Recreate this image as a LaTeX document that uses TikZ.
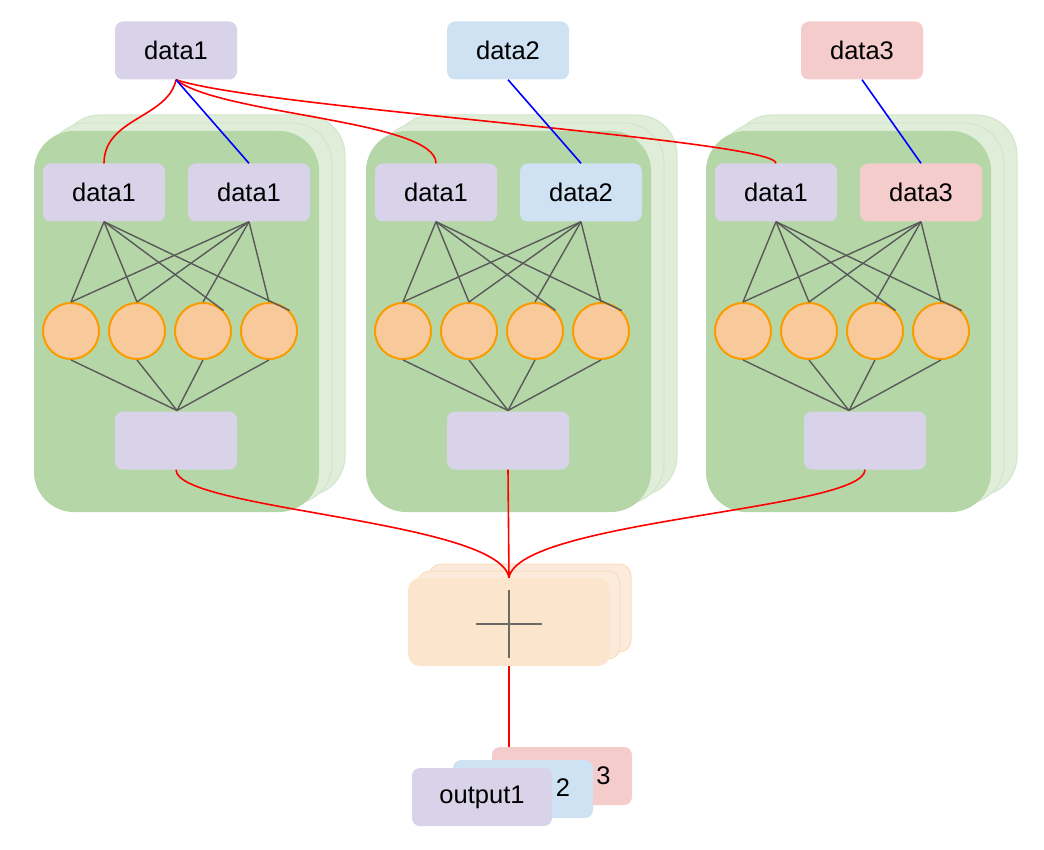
\documentclass[tikz,border=0pt]{standalone}
\usepackage{fontspec}
\setmainfont{Liberation Sans}
\definecolor{cpurple}{HTML}{D9D3E9}
\definecolor{cblue}{HTML}{CFE2F3}
\definecolor{cpink}{HTML}{F4CCCC}
\definecolor{cgreen}{HTML}{B5D7A8}
\definecolor{cgreenback}{HTML}{DFEDD9}
\definecolor{cgreenedge}{HTML}{D2E6CB}
\definecolor{corangefill}{HTML}{F8C99B}
\definecolor{corange}{HTML}{FA9C00}
\definecolor{cpeach}{HTML}{FCE5CD}
\definecolor{cpeachback}{HTML}{FCEBDA}
\definecolor{cpeachedge}{HTML}{F9DEC0}
\definecolor{cgray}{HTML}{595959}
\begin{document}
\begin{tikzpicture}[x=1pt,y=-1pt,
  font=\fontsize{25.5}{30}\selectfont,
  box/.style={rectangle, rounded corners=8pt, minimum width=122pt, minimum height=58pt, inner sep=0pt, text=black},
  outbox/.style={box, minimum width=140pt},
  panel/.style={rectangle, rounded corners=40pt, minimum width=285pt, minimum height=381pt, inner sep=0pt, fill=cgreen},
  panelback/.style={panel, fill=cgreenback, draw=cgreenedge, line width=1pt},
  sumbox/.style={rectangle, rounded corners=12pt, minimum width=202pt, minimum height=88pt, inner sep=0pt, fill=cpeach},
  sumback/.style={sumbox, fill=cpeachback, draw=cpeachedge, line width=1pt},
  unit/.style={circle, minimum size=56pt, inner sep=0pt, fill=corangefill, draw=corange, line width=2pt},
  wire/.style={draw=cgray, line width=1.4pt},
  redlink/.style={draw=red, line width=1.6pt},
  bluelink/.style={draw=blue, line width=1.6pt}]
\useasboundingbox (0,0) rectangle (1044,850);

% input blocks at the top
\node[box, fill=cpurple] (t1) at (176,50.5) {data1};
\node[box, fill=cblue]   (t2) at (508,50.5) {data2};
\node[box, fill=cpink]   (t3) at (862,50.5) {data3};

% three parallel sub-networks: panel left edge, output box offset, hub offset
\foreach \i/\px/\bx/\hx/\rn/\rc in {1/34/142/143/data1/cpurple, 2/366/142/142/data2/cblue, 3/706/159/143/data3/cpink}{
  \node[panelback] (p\i b2) at ({\px+168.5},305.5) {};
  \node[panelback] (p\i b1) at ({\px+155.5},313.5) {};
  \node[panel] (p\i) at ({\px+142.5},321.5) {};
  \node[box, fill=cpurple] (l\i) at ({\px+70},192.5) {data1};
  \node[box, fill=\rc] (r\i) at ({\px+215},192.5) {\rn};
  \foreach \k/\dx in {1/37,2/103,3/169,4/235}{
    \node[unit] (c\i-\k) at ({\px+\dx},331) {};
  }
  \node[box, fill=cpurple] (b\i) at ({\px+\bx},440.5) {};
  \coordinate (h\i) at ({\px+\hx},410.5);
  \draw[wire] (l\i.south) -- (c\i-1.north);
  \draw[wire] (l\i.south) -- (c\i-2.north);
  \draw[wire] (l\i.south) -- (c\i-3.north east);
  \draw[wire] (l\i.south) -- (c\i-4.north east);
  \foreach \k in {1,...,4}{
    \draw[wire] (r\i.south) -- (c\i-\k.north);
    \draw[wire] (c\i-\k.south) -- (h\i);
  }
}

% summation stack
\node[sumback] (s2) at (530,608) {};
\node[sumback] (s1) at (519,615) {};
\node[sumbox] (sum) at (509,622) {};
\coordinate (plusL) at (476,624);
\coordinate (plusR) at (542,624);
\coordinate (plusT) at (509,590);
\coordinate (plusB) at (509,658);
\draw[draw=cgray!90, line width=1.5pt] (plusL) -- (plusR) (plusT) -- (plusB);

% outputs
\node[outbox, fill=cpink] (o3) at (562,776) {};
\node (o3lbl) at (603.5,776) {3};
\node[outbox, fill=cblue] (o2) at (523,789) {};
\node (o2lbl) at (563,788) {2};
\node[outbox, fill=cpurple] (o1) at (482,797) {output1};

% connections from the inputs
\draw[redlink] (t1.south) .. controls (168,118) and (104,118) .. (l1.north);
\draw[redlink] (t1.south) .. controls (220,115) and (436,120) .. (l2.north);
\draw[redlink] (t1.south) .. controls (260,108) and (776,140) .. (l3.north);
\draw[bluelink] (t1.south) -- (r1.north);
\draw[bluelink] (t2.south) -- (r2.north);
\draw[bluelink] (t3.south) -- (r3.north);

% merging into the sum
\draw[redlink] (b1.south) .. controls (176,510) and (500,520) .. (sum.north);
\draw[redlink] (b2.south) -- (sum.north);
\draw[redlink] (b3.south) .. controls (865,510) and (518,520) .. (sum.north);
\draw[redlink] (sum.south) -- (o3.north -| sum.south);
\end{tikzpicture}
\end{document}
